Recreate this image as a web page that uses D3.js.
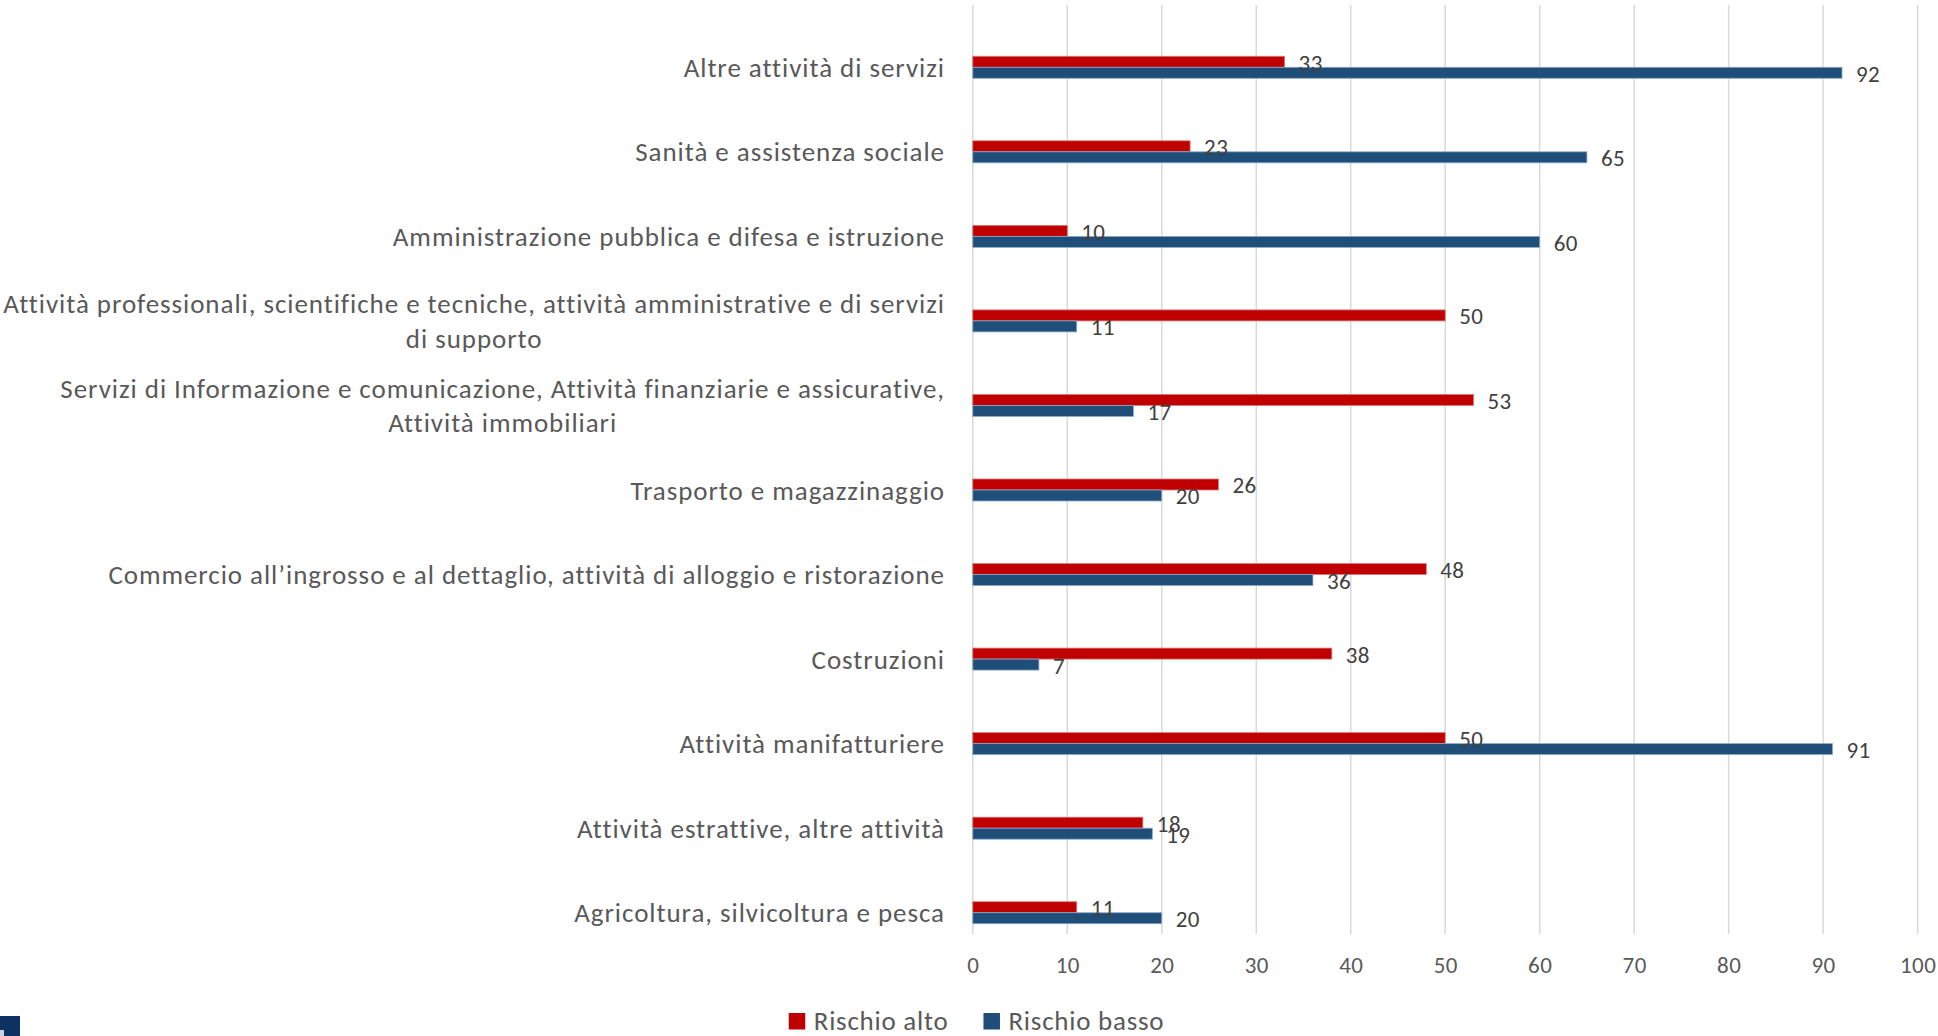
<!DOCTYPE html>
<html lang="it">
<head>
<meta charset="utf-8">
<title>Rischio alto e basso per settore</title>
<script src="https://cdn.jsdelivr.net/npm/d3@7"></script>
<style>
  html, body { margin: 0; padding: 0; background: #ffffff; }
  svg { display: block; }
  text { font-family: Carlito, Calibri, Lato, sans-serif; }
</style>
</head>
<body>
<svg id="chart" width="1938" height="1036"></svg>
<script>
// Settori (dall'alto verso il basso), con le righe dell'etichetta
const categories = [
  "Altre attività di servizi",
  "Sanità e assistenza sociale",
  "Amministrazione pubblica e difesa e istruzione",
  "Attività professionali, scientifiche e tecniche, attività amministrative e di servizi di supporto",
  "Servizi di Informazione e comunicazione, Attività finanziarie e assicurative, Attività immobiliari",
  "Trasporto e magazzinaggio",
  "Commercio all’ingrosso e al dettaglio, attività di alloggio e ristorazione",
  "Costruzioni",
  "Attività manifatturiere",
  "Attività estrattive, altre attività",
  "Agricoltura, silvicoltura e pesca"
];
const categoryLines = [
  ["Altre attività di servizi"],
  ["Sanità e assistenza sociale"],
  ["Amministrazione pubblica e difesa e istruzione"],
  ["Attività professionali, scientifiche e tecniche, attività amministrative e di servizi", "di supporto"],
  ["Servizi di Informazione e comunicazione, Attività finanziarie e assicurative,", "Attività immobiliari"],
  ["Trasporto e magazzinaggio"],
  ["Commercio all’ingrosso e al dettaglio, attività di alloggio e ristorazione"],
  ["Costruzioni"],
  ["Attività manifatturiere"],
  ["Attività estrattive, altre attività"],
  ["Agricoltura, silvicoltura e pesca"]
];

const seriesNames = ["Rischio alto", "Rischio basso"];
const rischioAlto  = [33, 23, 10, 50, 53, 26, 48, 38, 50, 18, 11];
const rischioBasso = [92, 65, 60, 11, 17, 20, 36,  7, 91, 19, 20];
const xTicks = [0, 10, 20, 30, 40, 50, 60, 70, 80, 90, 100];

const seriesColors = { "Rischio alto": "#C00000", "Rischio basso": "#1F4E79" };
const seriesStroke = { "Rischio alto": "#d97a7a", "Rischio basso": "#8eaacb" };

const rows = categories.map((c, i) => ({
  category: c,
  lines: categoryLines[i],
  values: [
    { series: seriesNames[0], value: rischioAlto[i] },
    { series: seriesNames[1], value: rischioBasso[i] }
  ]
}));

const svg = d3.select("#chart");
svg.append("rect").attr("width", 1938).attr("height", 1036).attr("fill", "#ffffff");

const x = d3.scaleLinear().domain([0, 100]).range([972.8, 1917.6]);
const y = d3.scaleBand().domain(categories).range([25, 955]);
const ySub = d3.scaleBand().domain(seriesNames).range([0, y.bandwidth()])
  .paddingInner(0).paddingOuter(2.843);

const gridTop = 5, gridBottom = 934;

// Griglia verticale
svg.append("g").selectAll("line").data(xTicks).join("line")
  .attr("x1", d => x(d)).attr("x2", d => x(d))
  .attr("y1", gridTop).attr("y2", gridBottom)
  .attr("stroke", "#d9d9d9").attr("stroke-width", 1.5);

// Etichette dell'asse dei valori
const xAxis = d3.axisBottom(x).tickValues(xTicks).tickSize(0).tickPadding(0);
const gx = svg.append("g").attr("transform", `translate(0,${gridBottom})`).call(xAxis);
gx.select(".domain").remove();
gx.selectAll("text")
  .attr("y", 38.5).attr("dy", null)
  .attr("fill", "#595959")
  .style("font-size", "23px")
  .style("letter-spacing", "0.4px")
  .style("font-family", "Carlito, Calibri, Lato, sans-serif");

// Barre
const groups = svg.append("g").selectAll("g").data(rows).join("g")
  .attr("transform", d => `translate(0,${y(d.category)})`);

groups.selectAll("rect").data(d => d.values).join("rect")
  .attr("x", x(0))
  .attr("y", d => ySub(d.series))
  .attr("width", d => x(d.value) - x(0))
  .attr("height", ySub.bandwidth())
  .attr("fill", d => seriesColors[d.series])
  .attr("stroke", d => seriesStroke[d.series])
  .attr("stroke-width", 0.8);

// Etichette dei valori
groups.selectAll("text.val").data(d => d.values).join("text")
  .attr("class", "val")
  .attr("x", d => x(d.value) + 14)
  .attr("y", d => ySub(d.series) + ySub.bandwidth() / 2 + 9)
  .attr("fill", "#404040")
  .style("font-size", "23px")
  .style("letter-spacing", "0.4px")
  .text(d => d.value);

// Etichette delle categorie (blocco allineato a destra, righe centrate)
const labelRight = 945;
const lineGap = 34.5;
const catLabels = svg.append("g").selectAll("g").data(rows).join("g");
catLabels.each(function (d) {
  const g = d3.select(this);
  const cy = y(d.category) + y.bandwidth() / 2;
  const n = d.lines.length;
  const texts = d.lines.map((line, j) =>
    g.append("text")
      .attr("text-anchor", "middle")
      .attr("y", cy + (j - (n - 1) / 2) * lineGap + 9.5)
      .attr("fill", "#595959")
      .style("font-size", "27px")
      .style("letter-spacing", "0.95px")
      .text(line)
  );
  const w = d3.max(texts, t => t.node().getComputedTextLength());
  texts.forEach(t => t.attr("x", labelRight - w / 2));
});

// Legenda
const legend = svg.append("g");
const legendItems = legend.selectAll("g").data(seriesNames).join("g");
legendItems.append("rect")
  .attr("width", 16.5).attr("height", 16.5)
  .attr("y", 1013)
  .attr("fill", d => seriesColors[d]);
legendItems.append("text")
  .attr("x", 25).attr("y", 1029.5)
  .attr("fill", "#595959")
  .style("font-size", "27px")
  .style("letter-spacing", "0.75px")
  .text(d => d);
let cursor = 0;
const widths = [];
legendItems.each(function () {
  const tw = d3.select(this).select("text").node().getComputedTextLength();
  widths.push(25 + tw);
});
const legendGap = 35;
const totalW = d3.sum(widths) + legendGap * (widths.length - 1);
cursor = 976.5 - totalW / 2;
legendItems.each(function (d, i) {
  d3.select(this).attr("transform", `translate(${cursor},0)`);
  cursor += widths[i] + legendGap;
});

// Marchio nell'angolo in basso a sinistra
svg.append("rect").attr("x", 0).attr("y", 1016).attr("width", 20).attr("height", 20).attr("fill", "#0d3261");
svg.append("rect").attr("x", 0).attr("y", 1030).attr("width", 4).attr("height", 6).attr("fill", "#c9d1dd");
</script>
</body>
</html>
